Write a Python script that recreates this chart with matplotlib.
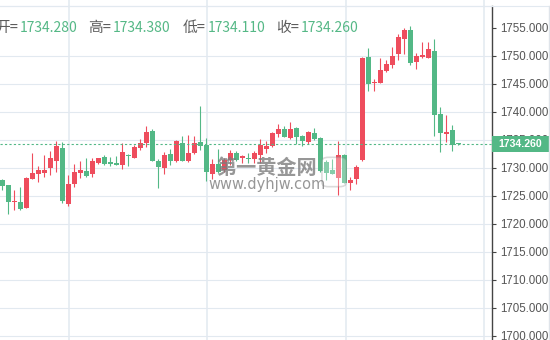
import matplotlib

matplotlib.use("Agg")
import matplotlib.pyplot as plt
import matplotlib.transforms as mtransforms
from matplotlib.lines import Line2D
from matplotlib.patches import FancyBboxPatch, Rectangle
import numpy as np

# candle data, oldest first
opens = [1727.8, 1726.9, 1723.9, 1723.9, 1722.8, 1728.0, 1728.9, 1729.0, 1730.0, 1731.25,
         1733.5, 1723.6, 1727.0, 1729.0, 1729.4, 1728.9, 1730.8, 1731.9, 1731.0, 1730.8,
         1730.5, 1732.3, 1731.7, 1733.5, 1734.4, 1736.5, 1731.2, 1729.9, 1732.4, 1731.2,
         1734.4, 1731.2, 1732.6, 1734.6, 1734.05, 1728.9, 1730.65, 1729.6, 1731.3, 1732.7,
         1731.7, 1731.7, 1731.5, 1732.3, 1733.4, 1733.9, 1736.1, 1736.9, 1735.3, 1737.1,
         1735.65, 1734.6, 1736.2, 1735.3, 1731.0, 1729.5, 1728.1, 1732.3, 1727.2, 1728.0,
         1731.4, 1749.8, 1745.1, 1745.1, 1747.3, 1748.3, 1750.3, 1753.0, 1754.6, 1748.9,
         1749.8, 1749.6, 1750.8, 1739.6, 1736.0, 1736.7, 1734.28]
highs = [1728.0, 1726.9, 1726.0, 1726.5, 1728.3, 1732.6, 1730.3, 1732.3, 1733.0, 1734.8,
         1734.6, 1728.7, 1730.65, 1731.2, 1731.7, 1731.8, 1731.8, 1732.3, 1731.9, 1732.1,
         1734.4, 1732.4, 1734.0, 1735.1, 1737.4, 1736.9, 1731.5, 1732.8, 1733.3, 1734.9,
         1735.65, 1735.8, 1735.65, 1741.0, 1735.3, 1731.5, 1733.3, 1731.8, 1733.2, 1732.9,
         1732.3, 1732.7, 1733.0, 1735.1, 1734.8, 1736.3, 1737.8, 1737.4, 1738.2, 1737.3,
         1735.8, 1736.5, 1737.1, 1735.5, 1731.3, 1731.6, 1734.8, 1732.4, 1728.3, 1730.4,
         1749.7, 1751.4, 1745.8, 1749.6, 1749.2, 1751.5, 1753.9, 1754.9, 1755.3, 1750.5,
         1752.4, 1752.4, 1753.0, 1740.8, 1739.4, 1737.6, 1734.38]
lows = [1726.0, 1721.7, 1722.4, 1722.4, 1722.8, 1728.0, 1727.5, 1728.3, 1728.75, 1729.3,
        1723.75, 1723.2, 1726.5, 1728.2, 1728.3, 1728.3, 1730.7, 1730.5, 1730.3, 1730.5,
        1729.8, 1730.3, 1731.7, 1733.2, 1733.7, 1731.2, 1726.4, 1728.9, 1730.5, 1731.0,
        1731.2, 1731.0, 1732.4, 1733.2, 1727.6, 1728.0, 1729.0, 1729.2, 1730.5, 1731.25,
        1730.8, 1730.9, 1730.8, 1730.8, 1732.6, 1733.7, 1735.5, 1735.4, 1735.2, 1734.3,
        1733.9, 1734.3, 1734.9, 1729.3, 1727.8, 1728.8, 1725.2, 1727.2, 1726.1, 1727.1,
        1731.2, 1743.7, 1743.7, 1745.1, 1747.1, 1747.8, 1749.2, 1750.3, 1748.3, 1747.6,
        1749.6, 1749.5, 1735.7, 1732.8, 1734.6, 1733.0, 1734.11]
closes = [1726.8, 1723.9, 1724.1, 1722.6, 1728.1, 1729.0, 1729.5, 1729.6, 1731.7, 1733.9,
          1724.1, 1727.1, 1729.2, 1729.6, 1728.5, 1731.2, 1731.7, 1730.7, 1730.7, 1730.5,
          1732.8, 1732.0, 1733.7, 1734.4, 1736.4, 1731.2, 1730.1, 1732.3, 1731.2, 1734.8,
          1731.2, 1732.6, 1734.4, 1733.9, 1729.2, 1730.65, 1729.2, 1731.3, 1732.7, 1731.4,
          1732.05, 1731.6, 1732.7, 1734.05, 1733.9, 1736.2, 1736.9, 1735.4, 1736.9, 1735.4,
          1734.8, 1736.4, 1735.2, 1729.4, 1729.1, 1728.9, 1732.3, 1727.3, 1727.8, 1730.2,
          1749.6, 1744.9, 1745.3, 1747.4, 1748.5, 1749.9, 1753.3, 1754.6, 1748.7, 1749.9,
          1750.1, 1751.2, 1739.4, 1736.2, 1736.4, 1734.1, 1734.26]

price_ticks = [1700, 1705, 1710, 1715, 1720, 1725, 1730, 1735, 1740, 1745, 1750, 1755]
grid_prices = [1700, 1705, 1710, 1715, 1720, 1725, 1730, 1735, 1740, 1745, 1750]
header_labels = ["开", "高", "低", "收"]
watermark_title = "第一黄金网"
watermark_url = "www.dyhjw.com"

UP = "#ee4d5d"
DOWN = "#53b886"
GRID = "#e2e9f0"
W, H = 550, 340

fig = plt.figure(figsize=(W / 100, H / 100), dpi=100)
ax = fig.add_axes([0, 0, 492 / W, 334 / H])

o = np.array(opens)
h = np.array(highs)
l = np.array(lows)
c = np.array(closes)
idx = np.arange(len(o))
colors = np.where(c >= o, UP, DOWN)

ax.vlines(idx, l, h, colors=colors, linewidth=0.8, zorder=3)
body = np.maximum(np.abs(c - o), 0.2)
ax.bar(idx, body, bottom=np.minimum(o, c), width=0.8, color=colors, linewidth=0, zorder=3)

ax.set_xlim(-0.383, 81.62)
ax.set_ylim(1699.23, 1758.875)

for p in grid_prices:
    ax.axhline(p, color=GRID, linewidth=0.8, zorder=0)
for gx in [11.12, 34.2, 57.28, 80.28]:
    ax.axvline(gx, ymin=0, ymax=H / 334, color=GRID, linewidth=1.1, zorder=0, clip_on=False)

last = closes[-1]
ax.axhline(last, color=DOWN, linewidth=0.8, linestyle=(0, (2, 2)), zorder=4)

ax.yaxis.tick_right()
ax.set_yticks(price_ticks)
ax.set_yticklabels([f"{p:.3f}" for p in price_ticks])
ax.tick_params(axis="y", direction="out", length=3, width=0.8, color="#444",
               labelcolor="#555", labelsize=8.3, pad=3)
for lab in ax.get_yticklabels():
    lab.set_family(["Liberation Sans", "DejaVu Sans"])
ax.set_xticks([])
for side in ["left", "bottom"]:
    ax.spines[side].set_visible(False)
ax.spines["right"].set_color("#444")
ax.spines["right"].set_linewidth(1.0)
ax.spines["top"].set_color(GRID)
ax.spines["top"].set_linewidth(0.8)

# last price tag on the axis
blend = mtransforms.blended_transform_factory(ax.transAxes, ax.transData)
tag_h = 16 / 5.6
ax.add_patch(Rectangle((1.0, last - tag_h / 2), 57 / 492, tag_h, transform=blend,
                       facecolor=DOWN, edgecolor="none", clip_on=False, zorder=6))
ax.text(1.0 + 28.5 / 492, last, f"{last:.3f}", transform=blend, ha="center", va="center",
        color="white", fontsize=7.6, fontweight="bold", family=["Liberation Sans"],
        zorder=7, clip_on=False)

# frame lines outside the axes
fig.add_artist(Line2D([0, 549 / W], [1 - 6 / H, 1 - 6 / H], color=GRID, linewidth=0.8))
fig.add_artist(Line2D([549 / W, 549 / W], [0, 1 - 6 / H], color="#dfe4ea", linewidth=1.0))

# header: O / H / L / C of the latest candle
header_values = [opens[-1], highs[-1], lows[-1], closes[-1]]
cjk = ["Noto Sans CJK SC", "DejaVu Sans"]
for lab, val, xnum in zip(header_labels, header_values, [20, 113, 208, 301]):
    fig.text((xnum - 2) / W, 1 - 32 / H, lab + "=", ha="right", va="baseline",
             color="#5c5c5c", fontsize=10.6, family=cjk)
    fig.text(xnum / W, 1 - 32 / H, f"{val:.3f}", ha="left", va="baseline",
             color="#55b886", fontsize=10, family=cjk)

# watermark
fig.text(267 / W, 1 - 168 / H, watermark_title, ha="center", va="center", fontsize=14.5,
         fontweight="bold", color="#7d7d7d", alpha=0.8, family=cjk, zorder=10)
fig.text(267 / W, 1 - 184 / H, watermark_url, ha="center", va="center", fontsize=10.5,
         color="#7d7d7d", alpha=0.8, family=["DejaVu Sans"], zorder=10)
fig.add_artist(FancyBboxPatch((323 / W, 1 - 186 / H), 22 / W, 28 / H,
                              boxstyle="round,pad=0.002,rounding_size=0.012",
                              facecolor="white", edgecolor="#8a8a8a", alpha=0.3,
                              linewidth=1.2, zorder=10))

fig.savefig("out.png", dpi=100)
